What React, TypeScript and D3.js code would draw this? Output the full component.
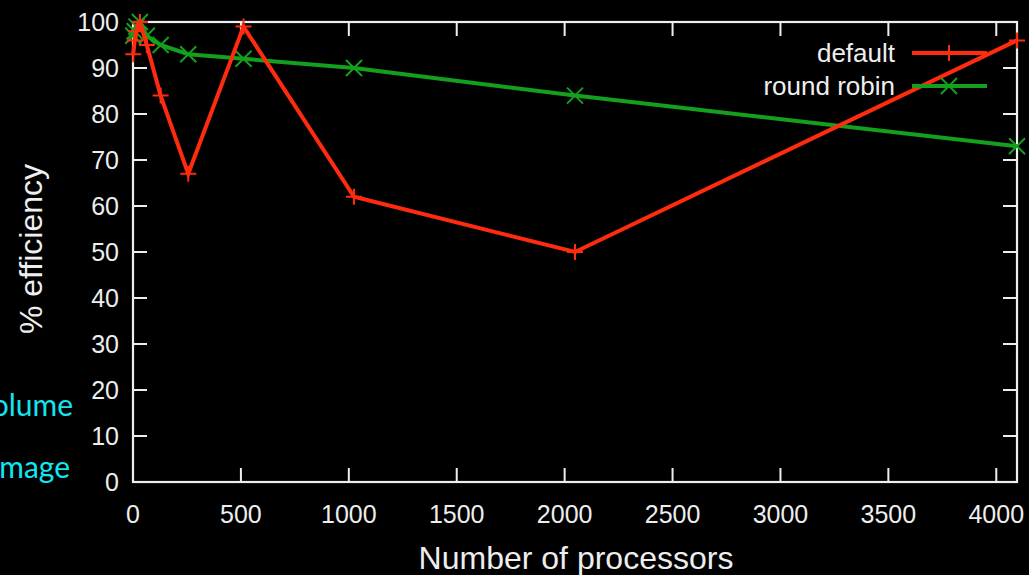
import * as d3 from "d3";

// processors vs % efficiency, two schedulers
const defaultProcs = [1, 8, 16, 32, 64, 128, 256, 512, 1024, 2048, 4096];
const defaultEff = [93, 96, 98, 100, 95, 84, 67, 99, 62, 50, 96];
const rrProcs = [1, 8, 16, 32, 64, 128, 256, 512, 1024, 2048, 4096];
const rrEff = [97, 98, 99, 100, 97, 95, 93, 92, 90, 84, 73];
const xTicks = [0, 500, 1000, 1500, 2000, 2500, 3000, 3500, 4000];
const yTicks = [0, 10, 20, 30, 40, 50, 60, 70, 80, 90, 100];

const RED = "#ff2b0f";
const GREEN = "#14a01e";
const FONT = "'Liberation Sans', Arial, Helvetica, sans-serif";

export default function App() {
  const W = 1029, H = 575;
  const L = 133, R = 1017, T = 22, B = 482;
  const x = d3.scaleLinear().domain([0, 4096]).range([L, R]);
  const y = d3.scaleLinear().domain([0, 100]).range([B, T]);
  const line = d3.line<[number, number]>().x((d) => x(d[0])).y((d) => y(d[1]));

  const red = defaultProcs.map((p, i) => [p, defaultEff[i]] as [number, number]);
  const green = rrProcs.map((p, i) => [p, rrEff[i]] as [number, number]);
  const tk = 14, m = 8;

  const plus = (cx: number, cy: number, k: string) => (
    <path key={k} d={`M${cx - m},${cy}H${cx + m}M${cx},${cy - m}V${cy + m}`}
          stroke={RED} strokeWidth={2} />
  );
  const cross = (cx: number, cy: number, k: string) => (
    <path key={k} d={`M${cx - m},${cy - m}L${cx + m},${cy + m}M${cx - m},${cy + m}L${cx + m},${cy - m}`}
          stroke={GREEN} strokeWidth={2} />
  );

  return (
    <>
      <style>{`body{margin:0;background:#000;overflow:hidden}`}</style>
      <svg width={W} height={H} style={{ display: "block", background: "#000" }} fontFamily={FONT}>
        {/* slide text bleeding in on the left */}
        <text x={73} y={416} textAnchor="end" fill="#12e6f0" fontSize={30}
              fontFamily="Lato, 'Open Sans', sans-serif">volume</text>
        <text x={70} y={478} textAnchor="end" fill="#12e6f0" fontSize={30}
              fontFamily="Lato, 'Open Sans', sans-serif">image</text>

        {/* frame + mirrored ticks */}
        <rect x={L} y={T} width={R - L} height={B - T} fill="none" stroke="#eee" strokeWidth={2.2} />
        {yTicks.map((v) => (
          <g key={"y" + v}>
            <path d={`M${L},${y(v)}h${tk}M${R},${y(v)}h${-tk}`} stroke="#eee" strokeWidth={2} />
            <text x={119} y={y(v)} dy="0.36em" textAnchor="end" fill="#eee" fontSize={25}>{v}</text>
          </g>
        ))}
        {xTicks.map((v) => (
          <g key={"x" + v}>
            <path d={`M${x(v)},${B}v${-tk}M${x(v)},${T}v${tk}`} stroke="#eee" strokeWidth={2} />
            <text x={x(v)} y={514} dy="0.36em" textAnchor="middle" fill="#eee" fontSize={25}>{v}</text>
          </g>
        ))}
        <text transform={`translate(30,${y(50) - 3}) rotate(-90)`} textAnchor="middle" dy="0.36em"
              fill="#eee" fontSize={32}>% efficiency</text>
        <text x={576} y={557} textAnchor="middle" dy="0.36em" fill="#eee" fontSize={32}>Number of processors</text>

        {/* series */}
        <path d={line(green) ?? ""} fill="none" stroke={GREEN} strokeWidth={4} />
        {green.map((d, i) => cross(x(d[0]), y(d[1]), "g" + i))}
        <path d={line(red) ?? ""} fill="none" stroke={RED} strokeWidth={4} />
        {red.map((d, i) => plus(x(d[0]), y(d[1]), "r" + i))}

        {/* legend */}
        <text x={895} y={53} dy="0.36em" textAnchor="end" fill="#eee" fontSize={26}>default</text>
        <path d="M912,53H987" stroke={RED} strokeWidth={4} />
        {plus(949, 53, "lr")}
        <text x={895} y={86} dy="0.36em" textAnchor="end" fill="#eee" fontSize={26}>round robin</text>
        <path d="M912,86H987" stroke={GREEN} strokeWidth={4} />
        {cross(949, 86, "lg")}
      </svg>
    </>
  );
}
